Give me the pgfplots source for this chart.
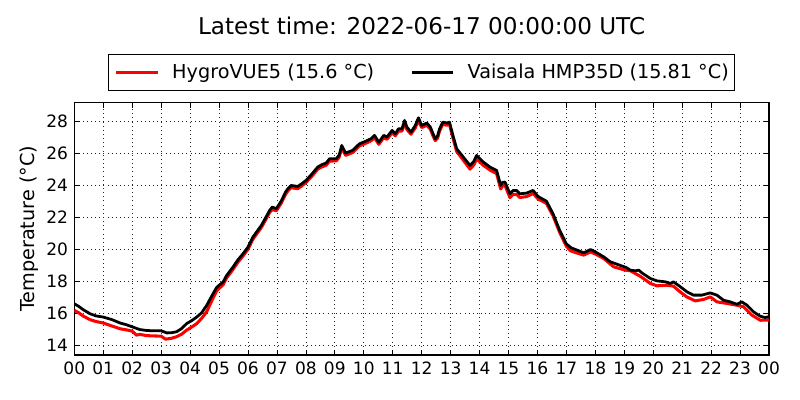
\documentclass[border=0pt]{standalone}
\usepackage{fontspec}
\setmainfont{DejaVu Sans}
\usepackage{pgfplots}
\pgfplotsset{compat=1.18}
\usepackage{pgfplotstable}

\pgfplotstableread{
h T
0.00 16.61
0.15 16.45
0.30 16.25
0.54 15.99
0.75 15.85
1.00 15.78
1.30 15.62
1.58 15.41
1.80 15.30
2.00 15.17
2.26 15.00
2.50 14.94
2.75 14.92
3.00 14.92
3.20 14.79
3.35 14.80
3.53 14.86
3.70 15.05
3.88 15.37
4.05 15.55
4.23 15.78
4.40 16.05
4.57 16.50
4.75 17.10
4.92 17.64
5.14 17.97
5.26 18.37
5.48 18.90
5.65 19.35
5.83 19.74
6.00 20.15
6.17 20.78
6.30 21.10
6.46 21.50
6.60 21.95
6.75 22.45
6.84 22.65
6.98 22.55
7.15 23.03
7.30 23.60
7.38 23.80
7.49 24.00
7.72 23.94
7.85 24.10
8.01 24.32
8.20 24.70
8.41 25.15
8.55 25.30
8.70 25.40
8.82 25.67
9.05 25.67
9.15 25.90
9.24 26.50
9.37 26.02
9.62 26.20
9.85 26.60
10.05 26.75
10.25 26.92
10.37 27.13
10.52 26.70
10.69 27.13
10.80 27.02
10.98 27.44
11.09 27.23
11.20 27.54
11.32 27.54
11.41 28.06
11.49 27.65
11.63 27.33
11.78 27.75
11.89 28.23
12.00 27.75
12.18 27.90
12.30 27.65
12.40 27.20
12.47 26.92
12.55 27.10
12.62 27.54
12.73 27.96
12.87 27.90
12.96 27.96
13.08 27.13
13.21 26.29
13.44 25.77
13.67 25.25
13.80 25.50
13.90 25.88
14.13 25.46
14.36 25.15
14.59 24.94
14.73 24.00
14.80 24.20
14.88 24.21
15.05 23.48
15.16 23.69
15.28 23.69
15.39 23.48
15.62 23.52
15.85 23.69
16.02 23.31
16.31 23.02
16.54 22.23
16.77 21.19
17.00 20.35
17.17 20.10
17.40 19.94
17.60 19.79
17.83 20.00
18.00 19.85
18.29 19.54
18.52 19.23
18.75 19.08
19.06 18.88
19.21 18.71
19.38 18.67
19.50 18.71
19.61 18.54
19.90 18.19
20.13 18.04
20.42 17.98
20.59 17.88
20.70 17.98
20.94 17.67
21.17 17.35
21.39 17.15
21.68 17.15
21.97 17.29
22.20 17.15
22.43 16.83
22.66 16.73
22.89 16.58
23.06 16.73
23.24 16.52
23.47 16.10
23.70 15.83
23.87 15.75
24.00 15.81
}\vaisala

\pgfplotstableread{
h T
0.00 16.20
0.15 16.05
0.30 15.85
0.54 15.62
0.75 15.50
1.00 15.41
1.30 15.22
1.58 15.05
1.80 14.98
2.00 14.90
2.15 14.65
2.26 14.70
2.50 14.62
2.75 14.60
3.00 14.59
3.15 14.40
3.35 14.45
3.53 14.55
3.70 14.70
3.88 14.96
4.05 15.15
4.23 15.37
4.40 15.70
4.57 16.10
4.75 16.80
4.92 17.43
5.14 17.80
5.26 18.22
5.48 18.75
5.65 19.20
5.83 19.60
6.00 20.02
6.17 20.64
6.30 20.97
6.46 21.37
6.60 21.82
6.75 22.32
6.84 22.50
6.98 22.42
7.15 22.90
7.30 23.45
7.38 23.66
7.49 23.86
7.72 23.80
7.85 23.96
8.01 24.20
8.20 24.56
8.41 25.02
8.55 25.16
8.70 25.26
8.82 25.52
9.05 25.54
9.15 25.76
9.24 26.36
9.37 25.88
9.62 26.06
9.85 26.47
10.05 26.62
10.25 26.79
10.37 26.98
10.52 26.57
10.69 26.99
10.80 26.88
10.98 27.30
11.09 27.10
11.20 27.40
11.32 27.40
11.41 27.90
11.49 27.50
11.63 27.20
11.78 27.60
11.89 28.08
12.00 27.62
12.18 27.76
12.30 27.52
12.40 27.06
12.47 26.80
12.55 26.96
12.62 27.40
12.73 27.82
12.87 27.76
12.96 27.82
13.08 26.98
13.21 26.12
13.44 25.58
13.67 25.02
13.80 25.28
13.90 25.66
14.13 25.26
14.36 24.96
14.59 24.74
14.73 23.78
14.80 23.98
14.88 24.00
15.05 23.24
15.16 23.45
15.28 23.44
15.39 23.25
15.62 23.30
15.85 23.50
16.02 23.16
16.31 22.88
16.54 22.10
16.77 21.06
17.00 20.20
17.14 19.92
17.40 19.76
17.60 19.65
17.83 19.85
18.00 19.72
18.29 19.44
18.63 18.92
19.04 18.71
19.21 18.67
19.55 18.33
19.90 17.88
20.13 17.73
20.47 17.77
20.70 17.71
20.93 17.35
21.16 17.04
21.45 16.79
21.74 16.88
21.97 17.04
22.20 16.73
22.55 16.63
22.89 16.52
23.12 16.42
23.41 15.90
23.70 15.58
24.00 15.60
}\hygro

\begin{document}
\begin{tikzpicture}
\path[use as bounding box] (0,0) rectangle (578.16pt,289.08pt);
\begin{axis}[
  at={(53.70pt,32.52pt)}, anchor=south west,
  scale only axis, width=502.06pt, height=182.34pt,
  xmin=0, xmax=24, ymin=13.41, ymax=29.17,
  xtick={0,1,...,24},
  xticklabels={00,01,02,03,04,05,06,07,08,09,10,11,12,13,14,15,16,17,18,19,20,21,22,23,00},
  ytick={14,16,...,28},
  /pgf/number format/assume math mode=true,
  tick align=inside, tick pos=both,
  major tick length=3.8pt,
  every tick/.style={black, line width=0.5pt},
  axis line style={black, line width=1pt},
  grid=major,
  major grid style={black!85, line width=0.5pt, dash pattern=on 0.7pt off 2.3pt},
  ticklabel style={font=\fontsize{12.3}{14}\selectfont},
  xticklabel style={inner sep=0pt, yshift=-4.8pt},
  yticklabel style={inner sep=0pt, xshift=-4.3pt},
  ylabel={Temperature (°C)},
  ylabel style={font=\fontsize{13.9}{16}\selectfont, at={(axis description cs:-0.05686,0.5)}, anchor=base, inner sep=0pt},
  title={Latest time: 2022-06-17 00:00:00 UTC},
  title style={font=\fontsize{16.7}{20}\selectfont, at={(axis description cs:0.5,1)}, anchor=base, yshift=43.36pt, inner sep=0pt},
  legend columns=2,
  legend cell align=left,
  legend image code/.code={\draw[#1] (0pt,0pt) -- (30.1pt,0pt);},
  legend style={at={(0.5,1)}, anchor=south, yshift=8.67pt,
    draw=black, line width=0.8pt, inner xsep=4.34pt, inner ysep=0pt,
    font=\fontsize{13.9}{16}\selectfont,
    nodes={inner sep=0pt, text height=17.3pt, text depth=8.5pt},
    /tikz/every odd column/.append style={column sep=9.4pt},
    /tikz/every even column/.append style={column sep=26pt}},
]
\addplot[red, line width=2.2pt, line join=round] table[x=h, y=T] {\hygro};
\addlegendentry{HygroVUE5 (15.6 °C)}
\addplot[black, line width=2pt, line join=round] table[x=h, y=T] {\vaisala};
\addlegendentry{Vaisala HMP35D (15.81 °C)}
\end{axis}
\end{tikzpicture}
\end{document}
